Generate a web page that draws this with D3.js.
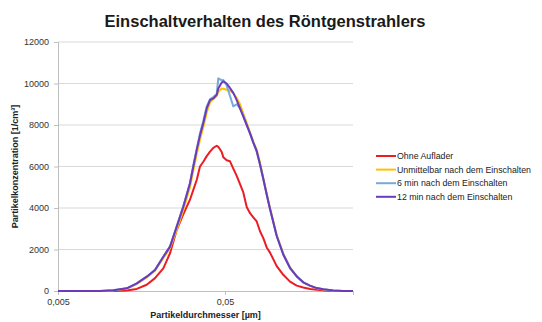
<!DOCTYPE html>
<html>
<head>
    <style>
        body { margin: 0; background: #fff; }
        svg { font-family: "Liberation Sans", Arial, sans-serif; }
        .grid line { stroke: #d9d9d9; stroke-width: 1; }
        .axis path, .axis line { stroke: #bfbfbf; }
        .axis text { fill: #333; font-size: 9px; }
        .line { fill: none; stroke-width: 2; stroke-linejoin: round; }
    </style>
    <script src="https://d3js.org/d3.v7.min.js"></script>
</head>
<body>

<svg width="542" height="322"></svg>

<script>

    // Partikeldurchmesser [µm]
    var diameters = [0.005, 0.00892, 0.01072, 0.01289, 0.0148, 0.01699, 0.01905, 0.02136, 0.02343, 0.02569,
        0.02814, 0.03085, 0.0323, 0.03385, 0.03542, 0.03708, 0.03886, 0.04067, 0.04256, 0.04459,
        0.04559, 0.04778, 0.04883, 0.05118, 0.05357, 0.05606, 0.05875, 0.0615, 0.06436, 0.06745,
        0.0706, 0.07387, 0.07741, 0.08101, 0.08479, 0.08884, 0.093, 0.102, 0.1117, 0.1225,
        0.1344, 0.1472, 0.1614, 0.177, 0.1939, 0.2226, 0.2545, 0.292];

    var ohneAuflader = [0, 0, 0, 20, 100, 300, 620, 1090, 1820, 2940,
        3700, 4400, 4870, 5350, 6000, 6230, 6500, 6720, 6900, 7000,
        6950, 6700, 6450, 6300, 6250, 5900, 5550, 5150, 4750, 4050,
        3750, 3550, 3350, 2880, 2550, 2100, 1850, 1200, 780, 450,
        260, 170, 100, 60, 30, 0, 0, 0];

    var unmittelbar = [0, 0, 30, 110, 330, 650, 980, 1580, 2060, 2950,
        3900, 5000, 5800, 6600, 7300, 7900, 8600, 9100, 9250, 9400,
        9600, 9760, 9750, 9700, 9650, 9530, 9300, 9000, 8550, 8100,
        7650, 7200, 6800, 6200, 5450, 4700, 4000, 2700, 1800, 1150,
        700, 400, 250, 130, 70, 25, 0, 0];

    var min6 = [0, 0, 40, 130, 360, 690, 1020, 1650, 2150, 3100,
        4100, 5200, 6050, 6850, 7600, 8200, 8900, 9250, 9350, 9500,
        10250, 10150, 10170, 9900, 9400, 8900, 9000, 8800, 8450, 8000,
        7600, 7150, 6700, 6100, 5400, 4650, 3950, 2650, 1780, 1130,
        720, 420, 260, 140, 80, 30, 0, 0];

    var min12 = [0, 0, 40, 130, 370, 690, 1010, 1650, 2140, 3100,
        4060, 5190, 6000, 6800, 7500, 8100, 8800, 9200, 9280, 9450,
        9760, 10050, 10100, 10000, 9780, 9550, 9200, 8800, 8400, 8000,
        7600, 7150, 6750, 6100, 5400, 4650, 3950, 2650, 1750, 1100,
        700, 420, 260, 140, 80, 30, 0, 0];

    var seriesNames = ["Ohne Auflader", "Unmittelbar nach dem Einschalten", "6 min nach dem Einschalten", "12 min nach dem Einschalten"];
    var seriesValues = [ohneAuflader, unmittelbar, min6, min12];
    var colors = ["#ec1c24", "#ffc000", "#77a9dc", "#6a3bbd"];

    var yTicks = [0, 2000, 4000, 6000, 8000, 10000, 12000];
    var xTicks = [0.005, 0.05];

    var margin = { top: 42, right: 189, bottom: 31, left: 58 };
    var width = 542 - margin.left - margin.right;
    var height = 322 - margin.top - margin.bottom;

    var svg = d3.select("svg");

    svg.append("text")
        .attr("x", 265)
        .attr("y", 27)
        .attr("text-anchor", "middle")
        .style("font-size", "16.5px")
        .style("font-weight", "bold")
        .style("fill", "#1a1a1a")
        .text("Einschaltverhalten des Röntgenstrahlers");

    var g = svg.append("g")
        .attr("transform", "translate(" + margin.left + "," + margin.top + ")");

    var xScale = d3.scaleLog()
        .domain([0.005, 0.292])
        .range([0, width]);

    var yScale = d3.scaleLinear()
        .domain([0, 12000])
        .range([height, 0]);

    // gridlines
    g.append("g")
        .attr("class", "grid")
        .selectAll("line")
        .data(yTicks.slice(1))
        .enter().append("line")
        .attr("x1", 0)
        .attr("x2", width)
        .attr("y1", function(d) { return yScale(d); })
        .attr("y2", function(d) { return yScale(d); });

    var yAxis = d3.axisLeft(yScale)
        .tickValues(yTicks)
        .tickSize(4)
        .tickPadding(5)
        .tickFormat(d3.format("d"));

    g.append("g")
        .attr("class", "axis")
        .call(yAxis);

    var xAxis = d3.axisBottom(xScale)
        .tickValues(xTicks)
        .tickSize(4)
        .tickPadding(4)
        .tickFormat(function(d) { return String(d).replace(".", ","); });

    g.append("g")
        .attr("class", "axis")
        .attr("transform", "translate(0," + height + ")")
        .call(xAxis);

    var line = d3.line()
        .x(function(d, i) { return xScale(diameters[i]); })
        .y(function(d) { return yScale(d); });

    seriesValues.forEach(function(values, i) {
        g.append("path")
            .datum(values)
            .attr("class", "line")
            .attr("stroke", colors[i])
            .attr("d", line);
    });

    // axis titles
    svg.append("text")
        .attr("transform", "translate(18," + (margin.top + height / 2) + ") rotate(-90)")
        .attr("text-anchor", "middle")
        .style("font-size", "9px")
        .style("font-weight", "bold")
        .style("fill", "#222")
        .text("Partikelkonzentration [1/cm³]");

    svg.append("text")
        .attr("x", margin.left + width / 2)
        .attr("y", 318)
        .attr("text-anchor", "middle")
        .style("font-size", "9px")
        .style("font-weight", "bold")
        .style("fill", "#222")
        .text("Partikeldurchmesser [µm]");

    // legend
    var legend = svg.append("g")
        .attr("transform", "translate(376,156)")
        .selectAll("g")
        .data(seriesNames)
        .enter().append("g")
        .attr("transform", function(d, i) { return "translate(0," + (i * 13.6) + ")"; });

    legend.append("line")
        .attr("x1", 0)
        .attr("x2", 20)
        .attr("stroke", function(d, i) { return colors[i]; })
        .attr("stroke-width", 2);

    legend.append("text")
        .attr("x", 21)
        .attr("dy", "0.33em")
        .style("font-size", "8.8px")
        .style("fill", "#222")
        .text(function(d) { return d; });
</script>
</body>
</html>
